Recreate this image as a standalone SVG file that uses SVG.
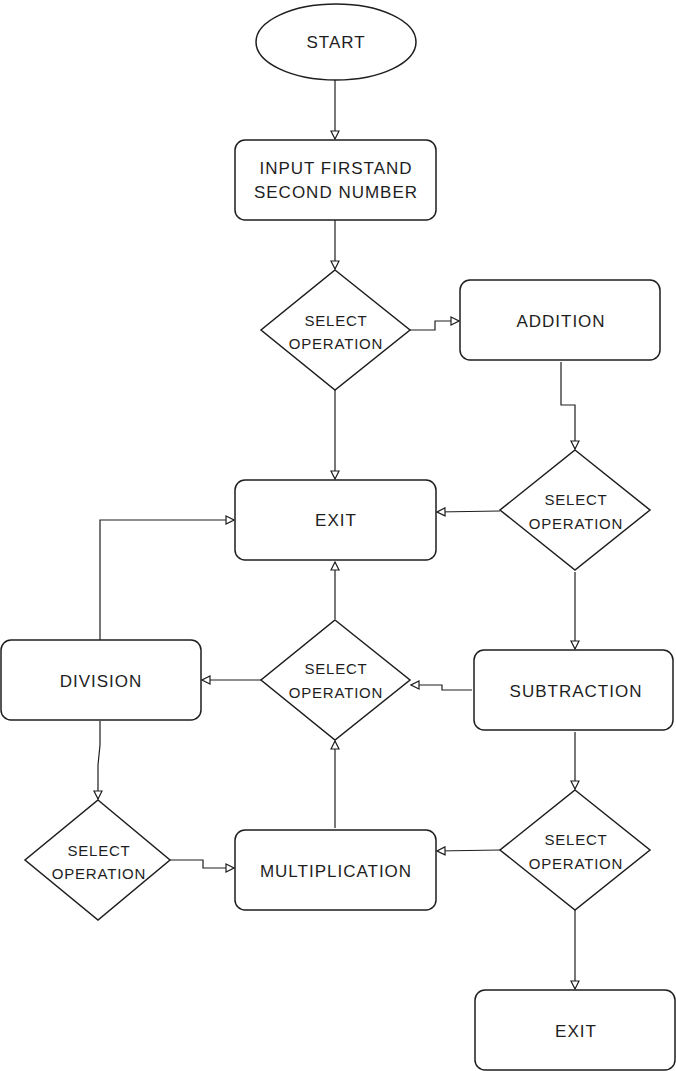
<svg xmlns="http://www.w3.org/2000/svg" width="676" height="1071" viewBox="0 0 676 1071">
<defs>
<style>
.shape{fill:#fff;stroke:#1e1e1e;stroke-width:1.5}
.lbl{font-family:"Liberation Sans","Noto Sans",sans-serif;font-size:17px;letter-spacing:1px;fill:#1e1e1e;text-anchor:middle}
.sm{font-size:15px;letter-spacing:0.8px}
.conn{fill:none;stroke:#1e1e1e;stroke-width:1.2;marker-end:url(#ah)}
</style>
<marker id="ah" viewBox="0 0 10 10" refX="9" refY="5" markerWidth="10" markerHeight="10" markerUnits="userSpaceOnUse" orient="auto">
<path d="M1,1 L9,5 L1,9 Z" fill="#fff" stroke="#1e1e1e" stroke-width="1.2"/>
</marker>
</defs>
<rect width="676" height="1071" fill="#fff"/>
<g id="connectors">
<path class="conn" d="M335,80 L335,139"/>
<path class="conn" d="M335,220 L335,269"/>
<path class="conn" d="M410,330 L435,330 L435,321 L459,321"/>
<path class="conn" d="M561,362 L561,405 L575,405 L575,449"/>
<path class="conn" d="M335,390 L335,479"/>
<path class="conn" d="M500,511 L437,512"/>
<path class="conn" d="M575,572 L575,649"/>
<path class="conn" d="M472,690 L442,690 L442,685 L411,685"/>
<path class="conn" d="M335,619 L335,562"/>
<path class="conn" d="M261,680 L202,680"/>
<path class="conn" d="M100,640 L100,520 L234,520"/>
<path class="conn" d="M100,721 L100,745 L98,765 L98,799"/>
<path class="conn" d="M170,860 L203,860 L203,868 L234,868"/>
<path class="conn" d="M335,828 L335,741"/>
<path class="conn" d="M575,732 L575,789"/>
<path class="conn" d="M500,850 L437,851"/>
<path class="conn" d="M575,910 L575,989"/>
</g>
<g id="start">
<ellipse class="shape" cx="336" cy="42" rx="80" ry="38"/>
<text class="lbl" x="336" y="48">START</text>
</g>
<g id="input">
<rect class="shape" x="235" y="140" width="201" height="80" rx="10"/>
<text class="lbl" x="336" y="174">INPUT FIRSTAND</text>
<text class="lbl" x="336" y="198">SECOND NUMBER</text>
</g>
<g id="select1">
<polygon class="shape" points="335,270 410,330 335,390 261,330"/>
<text class="lbl sm" x="336" y="326">SELECT</text>
<text class="lbl sm" x="336" y="349">OPERATION</text>
</g>
<g id="addition">
<rect class="shape" x="460" y="280" width="200" height="80" rx="10"/>
<text class="lbl" x="561" y="327">ADDITION</text>
</g>
<g id="select2">
<polygon class="shape" points="575,450 650,510 575,570 500,510"/>
<text class="lbl sm" x="576" y="505">SELECT</text>
<text class="lbl sm" x="576" y="529">OPERATION</text>
</g>
<g id="exit1">
<rect class="shape" x="235" y="480" width="201" height="80" rx="10"/>
<text class="lbl" x="336" y="526">EXIT</text>
</g>
<g id="subtraction">
<rect class="shape" x="474" y="650" width="199" height="80" rx="10"/>
<text class="lbl" x="576" y="697">SUBTRACTION</text>
</g>
<g id="select3">
<polygon class="shape" points="335,620 410,680 335,740 261,680"/>
<text class="lbl sm" x="336" y="674">SELECT</text>
<text class="lbl sm" x="336" y="698">OPERATION</text>
</g>
<g id="division">
<rect class="shape" x="1" y="640" width="200" height="80" rx="10"/>
<text class="lbl" x="101" y="687">DIVISION</text>
</g>
<g id="select4">
<polygon class="shape" points="98,800 170,860 98,920 25,860"/>
<text class="lbl sm" x="99" y="856">SELECT</text>
<text class="lbl sm" x="99" y="879">OPERATION</text>
</g>
<g id="multiplication">
<rect class="shape" x="235" y="830" width="201" height="80" rx="10"/>
<text class="lbl" x="336" y="877">MULTIPLICATION</text>
</g>
<g id="select5">
<polygon class="shape" points="575,790 650,850 575,910 500,850"/>
<text class="lbl sm" x="576" y="845">SELECT</text>
<text class="lbl sm" x="576" y="869">OPERATION</text>
</g>
<g id="exit2">
<rect class="shape" x="475" y="990" width="200" height="80" rx="10"/>
<text class="lbl" x="576" y="1037">EXIT</text>
</g>
</svg>
